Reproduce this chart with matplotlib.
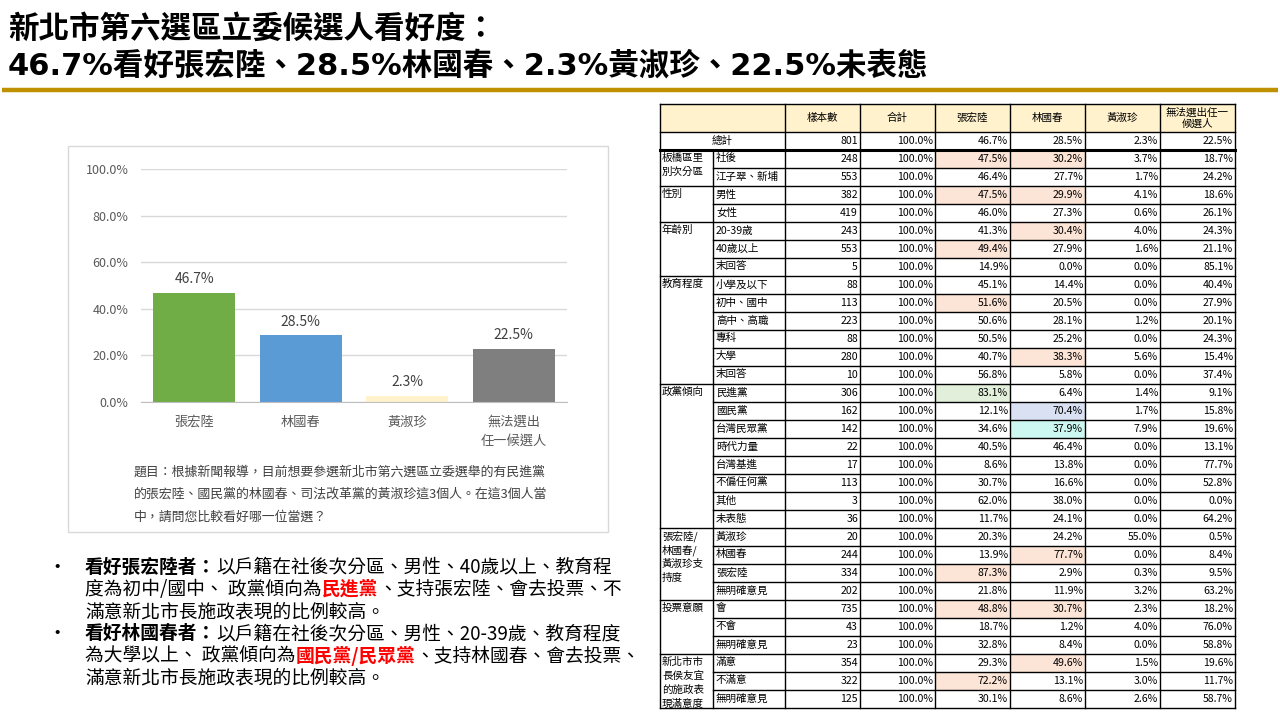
import matplotlib
matplotlib.use("Agg")
import matplotlib.pyplot as plt
from matplotlib.patches import Rectangle

plt.rcParams['font.family'] = ['Noto Sans CJK TC', 'DejaVu Sans']

# ---------------------------------------------------------------
# 資料
# ---------------------------------------------------------------
title_lines = ["新北市第六選區立委候選人看好度：",
               "46.7%看好張宏陸、28.5%林國春、2.3%黃淑珍、22.5%未表態"]

candidates = ["張宏陸", "林國春", "黃淑珍", "無法選出\n任一候選人"]
support = [46.7, 28.5, 2.3, 22.5]
bar_colors = ["#70AD47", "#5B9BD5", "#FFF2CC", "#7F7F7F"]
y_ticks = [0, 20, 40, 60, 80, 100]

question = ["題目：根據新聞報導，目前想要參選新北市第六選區立委選舉的有民進黨",
            "的張宏陸、國民黨的林國春、司法改革黨的黃淑珍這3個人。在這3個人當",
            "中，請問您比較看好哪一位當選？"]

# (文字, 樣式)  n=一般, b=粗體, r=紅色粗體
bullet1 = [[("看好張宏陸者：", "b"), ("以戶籍在社後次分區、男性、40歲以上、教育程", "n")],
           [("度為初中/國中、 政黨傾向為", "n"), ("民進黨", "r"), ("、支持張宏陸、會去投票、不", "n")],
           [("滿意新北市長施政表現的比例較高。", "n")]]
bullet2 = [[("看好林國春者：", "b"), ("以戶籍在社後次分區、男性、20-39歲、教育程度", "n")],
           [("為大學以上、 政黨傾向為", "n"), ("國民黨/民眾黨", "r"), ("、支持林國春、會去投票、", "n")],
           [("滿意新北市長施政表現的比例較高。", "n")]]

table_header = ["樣本數", "合計", "張宏陸", "林國春", "黃淑珍", "無法選出任一\n候選人"]
total_row = [801, 100.0, 46.7, 28.5, 2.3, 22.5]

group_names = ["板橋區里\n別次分區", "性別", "年齡別", "教育程度", "政黨傾向",
               "張宏陸/\n林國春/\n黃淑珍支\n持度", "投票意願", "新北市市\n長侯友宜\n的施政表\n現滿意度"]
group_items = [["社後", "江子翠、新埔"],
               ["男性", "女性"],
               ["20-39歲", "40歲以上", "末回答"],
               ["小學及以下", "初中、國中", "高中、高職", "專科", "大學", "末回答"],
               ["民進黨", "國民黨", "台灣民眾黨", "時代力量", "台灣基進", "不偏任何黨", "其他", "未表態"],
               ["黃淑珍", "林國春", "張宏陸", "無明確意見"],
               ["會", "不會", "無明確意見"],
               ["滿意", "不滿意", "無明確意見"]]

n_sample = [248, 553, 382, 419, 243, 553, 5, 88, 113, 223, 88, 280, 10,
            306, 162, 142, 22, 17, 113, 3, 36, 20, 244, 334, 202, 735, 43, 23, 354, 322, 125]
pct_zhang = [47.5, 46.4, 47.5, 46.0, 41.3, 49.4, 14.9, 45.1, 51.6, 50.6, 50.5, 40.7, 56.8,
             83.1, 12.1, 34.6, 40.5, 8.6, 30.7, 62.0, 11.7, 20.3, 13.9, 87.3, 21.8,
             48.8, 18.7, 32.8, 29.3, 72.2, 30.1]
pct_lin = [30.2, 27.7, 29.9, 27.3, 30.4, 27.9, 0.0, 14.4, 20.5, 28.1, 25.2, 38.3, 5.8,
           6.4, 70.4, 37.9, 46.4, 13.8, 16.6, 38.0, 24.1, 24.2, 77.7, 2.9, 11.9,
           30.7, 1.2, 8.4, 49.6, 13.1, 8.6]
pct_huang = [3.7, 1.7, 4.1, 0.6, 4.0, 1.6, 0.0, 0.0, 0.0, 1.2, 0.0, 5.6, 0.0,
             1.4, 1.7, 7.9, 0.0, 0.0, 0.0, 0.0, 0.0, 55.0, 0.0, 0.3, 3.2,
             2.3, 4.0, 0.0, 1.5, 3.0, 2.6]
pct_none = [18.7, 24.2, 18.6, 26.1, 24.3, 21.1, 85.1, 40.4, 27.9, 20.1, 24.3, 15.4, 37.4,
            9.1, 15.8, 19.6, 13.1, 77.7, 52.8, 0.0, 64.2, 0.5, 8.4, 9.5, 63.2,
            18.2, 76.0, 58.8, 19.6, 11.7, 58.7]

# 標色儲存格: (列索引, 欄位索引 2=張宏陸 3=林國春, 顏色)
highlights = [(0, 2, "#FCE4D6"), (0, 3, "#FCE4D6"), (2, 2, "#FCE4D6"), (2, 3, "#FCE4D6"),
              (4, 3, "#FCE4D6"), (5, 2, "#FCE4D6"), (8, 2, "#FCE4D6"), (11, 3, "#FCE4D6"),
              (13, 2, "#E2EFDA"), (14, 3, "#D9E1F2"), (15, 3, "#CCF8F1"),
              (22, 3, "#FCE4D6"), (23, 2, "#FCE4D6"), (25, 2, "#FCE4D6"), (25, 3, "#FCE4D6"),
              (28, 3, "#FCE4D6"), (29, 2, "#FCE4D6")]

# ---------------------------------------------------------------
# 畫布 (背景座標 = 像素)
# ---------------------------------------------------------------
W, H = 1280, 720
fig = plt.figure(figsize=(12.8, 7.2), dpi=100)
bg = fig.add_axes([0, 0, 1, 1])
bg.set_xlim(0, W); bg.set_ylim(H, 0); bg.axis("off")

# 標題 (英數字用 DejaVu 較寬)
title_font = ['DejaVu Sans', 'Noto Sans CJK TC']
bg.text(8, 29, title_lines[0], fontsize=22, fontweight="bold", va="center", ha="left",
        family=title_font)
bg.text(8, 66, title_lines[1], fontsize=22, fontweight="bold", va="center", ha="left",
        family=title_font)
bg.plot([2, 1278], [90, 90], color="#BF9000", lw=3.2, solid_capstyle="butt")

# 圖框
bg.add_patch(Rectangle((68, 146), 540, 386, facecolor="white", edgecolor="#D9D9D9", lw=1))

for i, line in enumerate(question):
    bg.text(134, 472 + i * 22.5, line, fontsize=9.3, color="#404040", va="center", ha="left")

# ---------------------------------------------------------------
# 長條圖
# ---------------------------------------------------------------
ax = fig.add_axes([141 / W, 1 - 401.7 / H, (567 - 141) / W, (401.7 - 169.3) / H])
x = range(len(candidates))
bars = ax.bar(x, support, width=0.77, color=bar_colors)
ax.bar_label(bars, labels=[f"{v:.1f}%" for v in support], padding=5,
             fontsize=10, color="#404040")
ax.set_xlim(-0.5, len(candidates) - 0.5)
ax.set_ylim(0, 100)
ax.set_yticks(y_ticks)
ax.set_yticklabels([f"{v:.1f}%" for v in y_ticks])
ax.set_xticks(list(x))
ax.set_xticklabels(candidates, linespacing=1.6)
ax.tick_params(axis="y", length=0, pad=9, labelsize=9, labelcolor="#595959")
ax.tick_params(axis="x", length=0, pad=10, labelsize=9.5, labelcolor="#595959")
ax.grid(axis="y", color="#D9D9D9", lw=1)
ax.set_axisbelow(True)
for s in ["top", "right", "left"]:
    ax.spines[s].set_visible(False)
ax.spines["bottom"].set_color("#BFBFBF")
ax.patch.set_alpha(0)

# ---------------------------------------------------------------
# 重點說明 (分段量測寬度後接續擺放)
# ---------------------------------------------------------------
renderer = fig.canvas.get_renderer()


def rich_line(x0, y, segs, size=13.5):
    xx = x0
    for txt, st in segs:
        kw = dict(fontsize=size, va="center", ha="left", color="#000000")
        if st in ("b", "r"):
            kw["fontweight"] = "bold"
        if st == "r":
            kw["color"] = "#FF0000"
        t = bg.text(xx, y, txt, **kw)
        xx += t.get_window_extent(renderer).width


y0 = 567
for b_i, bullet in enumerate([bullet1, bullet2]):
    yb = y0 + b_i * 3 * 22.2
    bg.text(57, yb, "•", fontsize=14, va="center", ha="center")
    for j, segs in enumerate(bullet):
        rich_line(85, yb + j * 22.2, segs)

# ---------------------------------------------------------------
# 交叉分析表
# ---------------------------------------------------------------
cx = [660, 713, 785, 860, 935, 1010, 1085, 1160, 1235]
top, h_bot, t_bot, rh = 103.5, 131.5, 149.5, 18.0
n_rows = len(n_sample)
bottom = t_bot + n_rows * rh
fs = 7.6
lc = "#000000"

bg.add_patch(Rectangle((cx[0], top), cx[-1] - cx[0], h_bot - top, facecolor="#FFF2CC", lw=0))
for r, c, col in highlights:
    bg.add_patch(Rectangle((cx[c + 2], t_bot + r * rh), cx[c + 3] - cx[c + 2], rh,
                           facecolor=col, lw=0))

# 表頭
for k, lab in enumerate(table_header):
    bg.text((cx[k + 2] + cx[k + 3]) / 2, (top + h_bot) / 2 + 0.5, lab, fontsize=fs,
            ha="center", va="center", linespacing=1.15)

# 總計
bg.text((cx[0] + cx[2]) / 2, (h_bot + t_bot) / 2, "總計", fontsize=fs, ha="center", va="center")


def cell_vals(row_vals, yc):
    bg.text(cx[3] - 2, yc, f"{row_vals[0]}", fontsize=fs, ha="right", va="center")
    for k, v in enumerate(row_vals[1:]):
        bg.text(cx[k + 4] - 2, yc, f"{v:.1f}%", fontsize=fs, ha="right", va="center")


cell_vals(total_row, (h_bot + t_bot) / 2)

# 各列
r = 0
for g, (gname, items) in enumerate(zip(group_names, group_items)):
    g_top = t_bot + r * rh
    for li, gl in enumerate(gname.split("\n")):
        bg.text(cx[0] + 2, g_top + 8.5 + li * 14, gl, fontsize=fs, ha="left", va="center")
    for j, item in enumerate(items):
        yc = t_bot + r * rh + rh / 2
        bg.text(cx[1] + 3, yc, item, fontsize=fs, ha="left", va="center")
        cell_vals([n_sample[r], 100.0, pct_zhang[r], pct_lin[r], pct_huang[r], pct_none[r]], yc)
        r += 1
        yl = t_bot + r * rh
        xs = cx[0] if j == len(items) - 1 else cx[1]
        bg.plot([xs, cx[-1]], [yl, yl], color=lc, lw=1)

# 格線
bg.plot([cx[0], cx[-1]], [top, top], color=lc, lw=1)
bg.plot([cx[0], cx[-1]], [h_bot, h_bot], color=lc, lw=1)
bg.plot([cx[0], cx[-1]], [t_bot, t_bot], color=lc, lw=2.2)
bg.plot([cx[0], cx[0]], [top, bottom], color=lc, lw=1)
bg.plot([cx[1], cx[1]], [t_bot, bottom], color=lc, lw=1)
for xv in cx[2:]:
    bg.plot([xv, xv], [top, bottom], color=lc, lw=1)

fig.savefig("out.png", dpi=100)
